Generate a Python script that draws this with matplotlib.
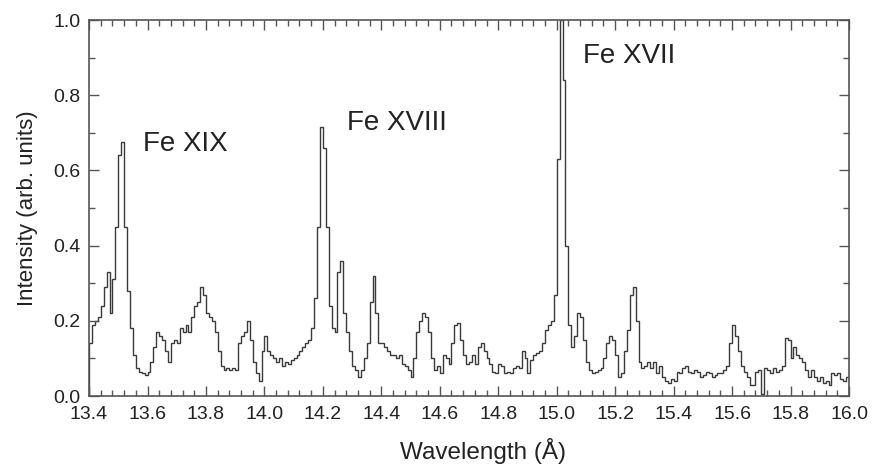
import numpy as np
import matplotlib
matplotlib.use("Agg")
import matplotlib.pyplot as plt
from matplotlib.ticker import MultipleLocator

# ---- data: X-ray spectrum, 0.01 Å bins from 13.40 to 16.00 Å ----
bin_start = 13.40
bin_width = 0.01
intensity = [
    # 13.40-13.49
    0.14, 0.19, 0.20, 0.21, 0.24, 0.29, 0.33, 0.22, 0.31, 0.45,
    # 13.50-13.59
    0.64, 0.675, 0.45, 0.28, 0.18, 0.11, 0.075, 0.065, 0.06, 0.055,
    # 13.60-13.69
    0.065, 0.09, 0.13, 0.17, 0.16, 0.15, 0.12, 0.09, 0.14, 0.15,
    # 13.70-13.79
    0.14, 0.18, 0.17, 0.19, 0.17, 0.21, 0.24, 0.25, 0.29, 0.27,
    # 13.80-13.89
    0.22, 0.21, 0.20, 0.17, 0.12, 0.08, 0.07, 0.075, 0.07, 0.075,
    # 13.90-13.99
    0.07, 0.14, 0.16, 0.17, 0.20, 0.15, 0.09, 0.06, 0.04, 0.12,
    # 14.00-14.09
    0.16, 0.12, 0.11, 0.10, 0.09, 0.10, 0.08, 0.09, 0.085, 0.095,
    # 14.10-14.19
    0.10, 0.11, 0.12, 0.13, 0.14, 0.15, 0.18, 0.26, 0.45, 0.715,
    # 14.20-14.29
    0.66, 0.45, 0.24, 0.18, 0.17, 0.33, 0.36, 0.22, 0.17, 0.12,
    # 14.30-14.39
    0.08, 0.07, 0.05, 0.07, 0.10, 0.14, 0.25, 0.32, 0.22, 0.14,
    # 14.40-14.49
    0.14, 0.13, 0.12, 0.11, 0.11, 0.10, 0.11, 0.085, 0.08, 0.07,
    # 14.50-14.59
    0.05, 0.10, 0.17, 0.20, 0.22, 0.21, 0.17, 0.10, 0.07, 0.08,
    # 14.60-14.69
    0.06, 0.11, 0.10, 0.085, 0.14, 0.19, 0.195, 0.15, 0.11, 0.085,
    # 14.70-14.79
    0.09, 0.11, 0.085, 0.13, 0.14, 0.12, 0.10, 0.085, 0.065, 0.06,
    # 14.80-14.89
    0.085, 0.08, 0.06, 0.065, 0.06, 0.075, 0.08, 0.075, 0.12, 0.10,
    # 14.90-14.99
    0.06, 0.095, 0.11, 0.115, 0.12, 0.14, 0.175, 0.19, 0.20, 0.27,
    # 15.00-15.09
    0.63, 1.00, 0.84, 0.40, 0.19, 0.13, 0.16, 0.22, 0.21, 0.15,
    # 15.10-15.19
    0.09, 0.07, 0.06, 0.065, 0.07, 0.075, 0.10, 0.14, 0.16, 0.15,
    # 15.20-15.29
    0.11, 0.05, 0.06, 0.12, 0.175, 0.27, 0.29, 0.20, 0.09, 0.075,
    # 15.30-15.39
    0.08, 0.09, 0.075, 0.09, 0.06, 0.08, 0.05, 0.04, 0.035, 0.045,
    # 15.40-15.49
    0.04, 0.065, 0.06, 0.075, 0.08, 0.065, 0.06, 0.07, 0.065, 0.05,
    # 15.50-15.59
    0.055, 0.065, 0.06, 0.05, 0.055, 0.06, 0.06, 0.07, 0.08, 0.14,
    # 15.60-15.69
    0.19, 0.16, 0.12, 0.08, 0.065, 0.05, 0.03, 0.03, 0.065, 0.07,
    # 15.70-15.79
    0.005, 0.075, 0.07, 0.06, 0.075, 0.065, 0.07, 0.08, 0.155, 0.15,
    # 15.80-15.89
    0.10, 0.13, 0.11, 0.10, 0.09, 0.07, 0.05, 0.07, 0.05, 0.04,
    # 15.90-15.99
    0.05, 0.035, 0.04, 0.03, 0.06, 0.055, 0.06, 0.045, 0.04, 0.05,
]

line_labels = ["Fe XIX", "Fe XVIII", "Fe XVII"]
label_wavelengths = [13.585, 14.283, 15.09]
label_intensities = [0.67, 0.725, 0.905]

x_ticks = [13.4, 13.6, 13.8, 14.0, 14.2, 14.4, 14.6, 14.8, 15.0, 15.2, 15.4, 15.6, 15.8, 16.0]
y_ticks = [0.0, 0.2, 0.4, 0.6, 0.8, 1.0]

# ---- plotting ----
plt.rcParams["font.family"] = ["Liberation Sans", "DejaVu Sans"]

fig = plt.figure(figsize=(8.79, 4.70), dpi=100)
ax = fig.add_axes([0.1013, 0.1574, 0.8646, 0.8000])

edges = np.round(bin_start + bin_width * np.arange(len(intensity) + 1), 2)
ax.stairs(intensity, edges, color="#3a3a3a", linewidth=1.0)

ax.set_xlim(13.4, 16.0)
ax.set_ylim(0.0, 1.0)
ax.set_xticks(x_ticks)
ax.set_yticks(y_ticks)
ax.set_xticklabels([f"{v:.1f}" for v in x_ticks], fontsize=14, color="#222222")
ax.set_yticklabels([f"{v:.1f}" for v in y_ticks], fontsize=14, color="#222222")
ax.xaxis.set_minor_locator(MultipleLocator(0.04))
ax.yaxis.set_minor_locator(MultipleLocator(0.1))
ax.tick_params(which="both", direction="in", top=True, right=True, color="#555555", width=1.0)
ax.tick_params(which="major", length=7)
ax.tick_params(which="minor", length=4)
ax.tick_params(axis="x", which="major", pad=7)
ax.tick_params(axis="y", which="major", pad=6)
for s in ax.spines.values():
    s.set_color("#555555")
    s.set_linewidth(1.2)

ax.set_xlabel("Wavelength (Å)", fontsize=17.5, color="#222222", labelpad=11)
ax.xaxis.label.set_x(0.518)
ax.set_ylabel("Intensity (arb. units)", fontsize=16, color="#222222", labelpad=11)

for lab, wl, it in zip(line_labels, label_wavelengths, label_intensities):
    ax.text(wl, it, lab, fontsize=20, color="#222222", ha="left", va="center")

fig.savefig("out.png", dpi=100)
